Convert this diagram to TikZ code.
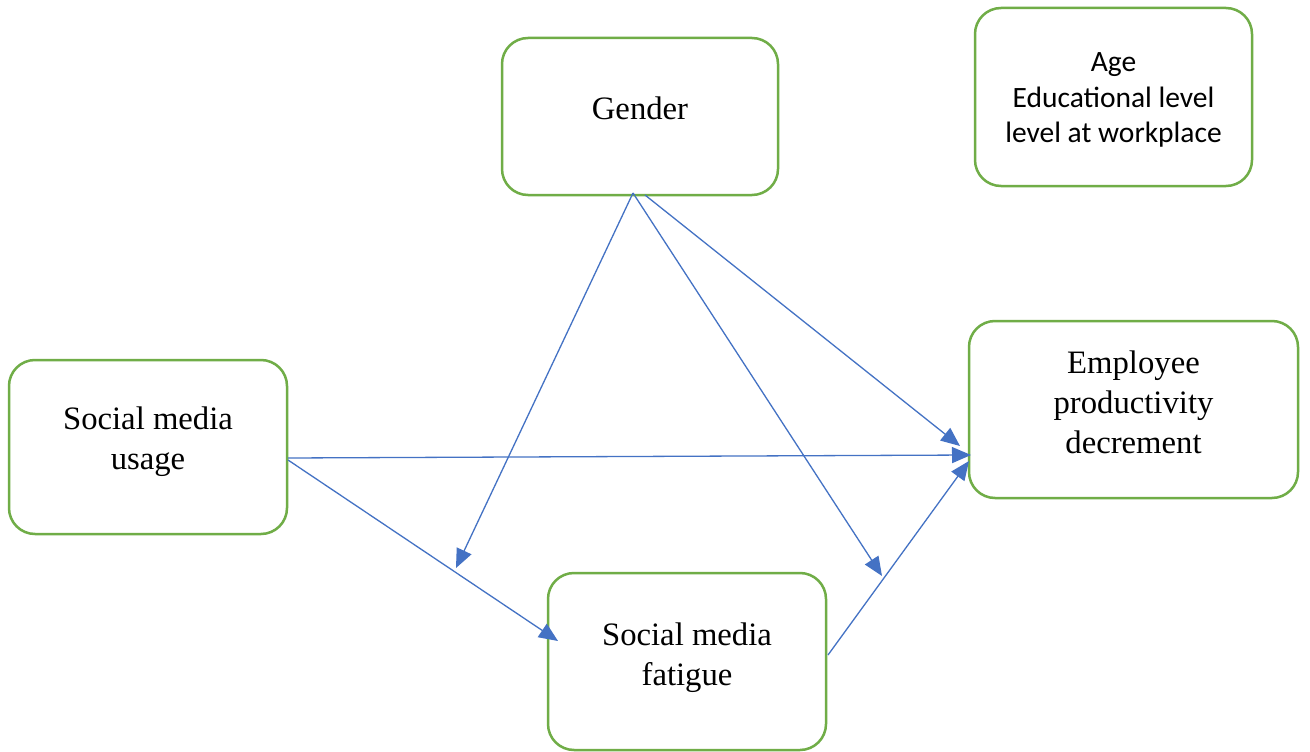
\documentclass[tikz,border=0pt]{standalone}
\usepackage{fontspec}
\setmainfont{Liberation Serif}
\newfontfamily\calib{Carlito}
\usetikzlibrary{arrows.meta}
\newcommand\boxlines[2]{\raisebox{#1}[0pt][0pt]{\begin{tabular}[t]{@{}c@{}}#2\end{tabular}}}
\begin{document}
\begin{tikzpicture}[x=1pt,y=-1pt,
  box/.style={draw=boxgreen,line width=2.5pt,rounded corners=26pt,align=center,inner sep=0pt},
  link/.style={draw=linkblue,line width=1.3pt,-{Triangle[length=19pt,width=16pt]}},
  sertext/.style={font=\fontsize{32.7}{40}\selectfont},
  sanstext/.style={font=\calib\fontsize{29.5}{35}\selectfont}]
\definecolor{boxgreen}{HTML}{70AD47}
\definecolor{linkblue}{HTML}{4472C4}
\path[fill=white] (0,0) rectangle (1310,752);
\useasboundingbox (0,0) rectangle (1310,752);
\node[box,sertext,minimum width=276pt,minimum height=157pt] (gender) at (640,116.5) {\boxlines{-3pt}{Gender}};
\node[box,sanstext,minimum width=277pt,minimum height=178pt] (age) at (1113.5,97) {\boxlines{25pt}{Age\\Educational level\\level at workplace}};
\node[box,sertext,minimum width=329pt,minimum height=177pt] (emp) at (1133.5,409.5) {\boxlines{36pt}{Employee\\productivity\\decrement}};
\node[box,sertext,minimum width=278pt,minimum height=174pt] (smu) at (148,447) {\boxlines{17.5pt}{Social media\\usage}};
\node[box,sertext,minimum width=278pt,minimum height=177pt] (smf) at (687,661.5) {\boxlines{16pt}{Social media\\fatigue}};
\coordinate (g1) at (633,193);
\coordinate (g2) at (645,195);
\coordinate (t1) at (456,568);
\coordinate (t2) at (882,576);
\coordinate (t3) at (960,446);
\coordinate (u1) at (288,458);
\coordinate (u2) at (288,460);
\coordinate (t4) at (971,455);
\coordinate (t5) at (558,641);
\coordinate (f1) at (828,655);
\coordinate (t6) at (969,461);
\draw[link] (g1) -- (t1);
\draw[link] (g1) -- (t2);
\draw[link] (g2) -- (t3);
\draw[link] (u1) -- (t4);
\draw[link] (u2) -- (t5);
\draw[link] (f1) -- (t6);
\end{tikzpicture}
\end{document}
